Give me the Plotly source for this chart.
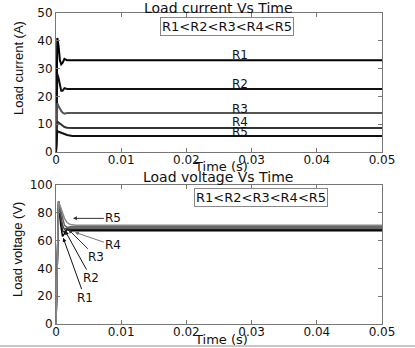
import plotly.graph_objects as go

W, H = 415, 348

# ---------------- data ----------------
series_names = ["R1", "R2", "R3", "R4", "R5"]

t_current = [0, 0.0002, 0.0004, 0.0006, 0.0008, 0.001, 0.0013, 0.0017, 0.0025, 0.05]
i_R1 = [0, 41, 38, 33, 31.5, 32, 33.5, 33, 33, 33]
i_R2 = [0, 28, 26.5, 24, 22, 22, 23, 22.7, 22.7, 22.7]
i_R3 = [0, 17.5, 16.5, 15.5, 14.8, 14.2, 13.8, 14, 14, 14]
i_R4 = [0, 11, 10.6, 10.2, 9.8, 9.4, 9, 8.7, 8.6, 8.6]
i_R5 = [0, 7.5, 7.3, 7.1, 6.9, 6.7, 6.4, 6.1, 5.8, 5.8]

t_voltage = [0, 0.0004, 0.0007, 0.001, 0.0013, 0.0017, 0.0022, 0.003, 0.05]
v_R1 = [0, 88, 72, 63, 65, 68, 67, 67, 67]
v_R2 = [0, 88, 76, 67, 66, 68.5, 68, 68, 68]
v_R3 = [0, 88, 79, 71, 68, 69, 69, 69, 69]
v_R4 = [0, 88, 82, 76, 71, 69.5, 70, 70, 70]
v_R5 = [0, 88, 84, 80, 76, 73, 71.5, 71, 71]

current_label_y = [34.8, 24.4, 15.5, 10.9, 7.1]
current_label_t = 0.0282

voltage_label_t = [0.0044, 0.0054, 0.0062, 0.0088, 0.0088]
voltage_label_v = [19, 33, 48, 56.5, 76]
voltage_head_t = [0.0011, 0.0014, 0.0019, 0.0029, 0.0026]
voltage_head_v = [62, 67, 68, 66, 76]

x_ticks = [0, 0.01, 0.02, 0.03, 0.04, 0.05]
x_ticktext = ["0", "0.01", "0.02", "0.03", "0.04", "0.05"]
i_ticks = [0, 10, 20, 30, 40, 50]
v_ticks = [0, 20, 40, 60, 80, 100]

order_text = "R1<R2<R3<R4<R5"

# ---------------- figure ----------------
cur_colors = ["#000000", "#111111", "#555555", "#333333", "#111111"]
volt_colors = ["#000000", "#222222", "#444444", "#666666", "#888888"]

fig = go.Figure()
for name, ys, c in zip(series_names, [i_R1, i_R2, i_R3, i_R4, i_R5], cur_colors):
    fig.add_trace(go.Scatter(x=t_current, y=ys, mode="lines", name=name,
                             line=dict(color=c, width=2), xaxis="x", yaxis="y",
                             showlegend=False))
for name, ys, c in zip(series_names, [v_R1, v_R2, v_R3, v_R4, v_R5], volt_colors):
    fig.add_trace(go.Scatter(x=t_voltage, y=ys, mode="lines", name=name,
                             line=dict(color=c, width=1.5), xaxis="x2", yaxis="y2",
                             showlegend=False))

x0, x1 = 56 / W, 382 / W
top_dom = [1 - 152 / H, 1 - 13 / H]
bot_dom = [1 - 324 / H, 1 - 185 / H]

tick_font = dict(family="DejaVu Sans", size=12, color="#111")
axis_common = dict(showgrid=False, zeroline=False, showline=True, linecolor="#777",
                   linewidth=1, mirror="allticks", ticks="inside", ticklen=4,
                   tickcolor="#777", tickfont=tick_font, automargin=False)
xaxis_extra = dict(ticklabelstandoff=-3)

fig.update_layout(
    width=W, height=H, margin=dict(l=0, r=0, t=0, b=0),
    paper_bgcolor="white", plot_bgcolor="white",
    xaxis=dict(domain=[x0, x1], range=[0, 0.05], tickvals=x_ticks, ticktext=x_ticktext,
               anchor="y", **axis_common, **xaxis_extra),
    yaxis=dict(domain=top_dom, range=[0, 50], tickvals=i_ticks, anchor="x", **axis_common),
    xaxis2=dict(domain=[x0, x1], range=[0, 0.05], tickvals=x_ticks, ticktext=x_ticktext,
                anchor="y2", **axis_common, **xaxis_extra),
    yaxis2=dict(domain=bot_dom, range=[0, 100], tickvals=v_ticks, anchor="x2", **axis_common),
)

ann = []
title_font = dict(family="DejaVu Sans", size=14, color="#111")
xt_font = dict(family="DejaVu Sans", size=13, color="#111")
ann.append(dict(text="Load current Vs Time", x=218 / W, y=1 - 8 / H, xref="paper", yref="paper",
                showarrow=False, font=title_font, xanchor="center", yanchor="middle"))
ann.append(dict(text="Load voltage Vs Time", x=218 / W, y=1 - 177 / H, xref="paper", yref="paper",
                showarrow=False, font=title_font, xanchor="center", yanchor="middle"))
ann.append(dict(text="Time (s)", x=221 / W, y=1 - 166 / H, xref="paper", yref="paper",
                showarrow=False, font=xt_font, xanchor="center", yanchor="middle"))
ann.append(dict(text="Time (s)", x=221 / W, y=1 - 339 / H, xref="paper", yref="paper",
                showarrow=False, font=xt_font, xanchor="center", yanchor="middle"))
ytitle_font = dict(family="Liberation Sans Narrow, Liberation Sans", size=13, color="#111")
ann.append(dict(text="Load current (A)", x=18 / W, y=1 - 68 / H, xref="paper", yref="paper",
                showarrow=False, font=ytitle_font, textangle=-90,
                xanchor="center", yanchor="middle"))
ann.append(dict(text="Load voltage (V)", x=18 / W, y=1 - 250 / H, xref="paper", yref="paper",
                showarrow=False, font=ytitle_font, textangle=-90,
                xanchor="center", yanchor="middle"))

box_font = dict(family="DejaVu Sans", size=13, color="#111")
ann.append(dict(text=order_text, x=0.0263, y=45, xref="x", yref="y", showarrow=False,
                font=box_font, bordercolor="#888", borderwidth=1, borderpad=1,
                bgcolor="white"))
ann.append(dict(text=order_text, x=0.0315, y=91, xref="x2", yref="y2", showarrow=False,
                font=box_font, bordercolor="#888", borderwidth=1, borderpad=1,
                bgcolor="white"))

lab_font = dict(family="DejaVu Sans", size=12, color="#111")
for name, yv in zip(series_names, current_label_y):
    ann.append(dict(text=name, x=current_label_t, y=yv, xref="x", yref="y",
                    showarrow=False, font=lab_font))

arrow_colors = ["#111", "#111", "#333", "#777", "#333"]
for name, tt, vv, ht, hv, ac in zip(series_names, voltage_label_t, voltage_label_v,
                                    voltage_head_t, voltage_head_v, arrow_colors):
    ann.append(dict(text=name, x=ht, y=hv, ax=tt, ay=vv, xref="x2", yref="y2",
                    axref="x2", ayref="y2", showarrow=True, arrowhead=2, arrowsize=0.8,
                    arrowwidth=1, arrowcolor=ac, font=lab_font))

fig.update_layout(annotations=ann)
fig.add_shape(type="line", xref="paper", yref="paper", x0=0, x1=1,
              y0=1 - 346 / H, y1=1 - 346 / H, line=dict(color="#c8c8c8", width=2))

fig.write_html("out.html", config={"displayModeBar": False},
               post_script="document.body.style.margin='0';")
